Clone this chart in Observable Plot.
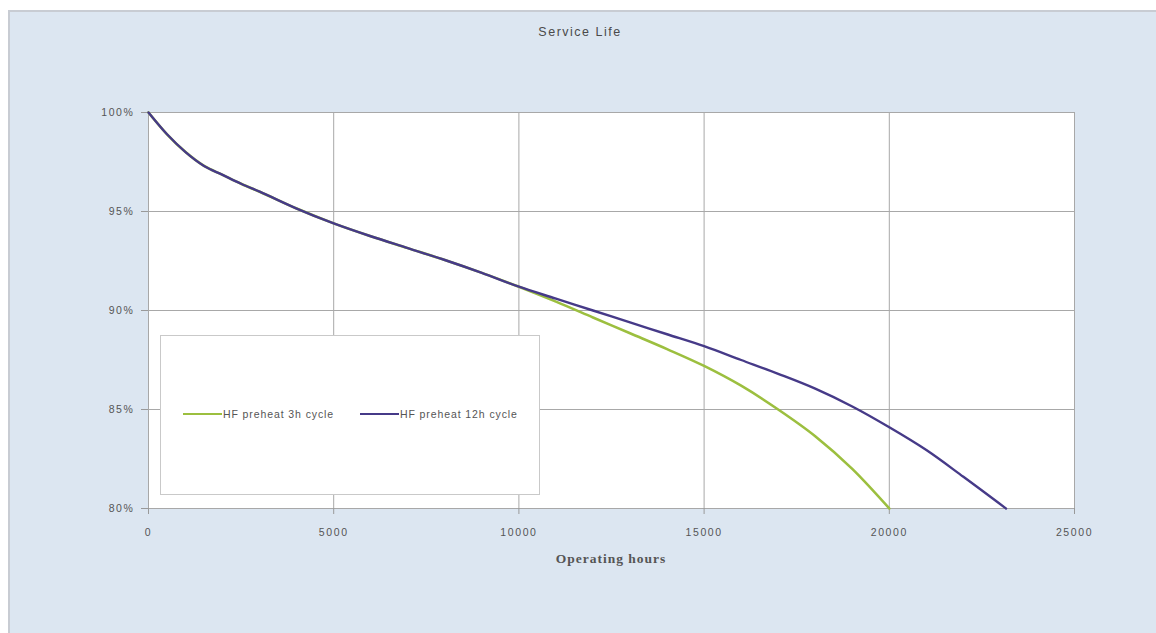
<!DOCTYPE html>
<html>
<head>
<meta charset="utf-8">
<script src="https://cdn.jsdelivr.net/npm/d3@7"></script>
<script src="https://cdn.jsdelivr.net/npm/@observablehq/plot@0.6"></script>
<style>
  html, body { margin: 0; padding: 0; background: #ffffff; width: 1156px; height: 633px; overflow: hidden; }
  #panel { position: absolute; left: 8px; top: 10px; width: 1160px; height: 640px; background: #dce6f1;
           border-left: 2px solid #c8ccd3; border-top: 2px solid #c8ccd3; box-sizing: border-box; }
  #chart { position: absolute; left: 0; top: 0; }
  #chart svg text { letter-spacing: 1.6px; }
  .txt { position: absolute; font-family: "Liberation Sans", Arial, sans-serif; color: #4a4a4a; white-space: nowrap; }
  #title { left: 0; width: 1160px; top: 25px; text-align: center; font-size: 12.5px; letter-spacing: 1.5px; }
  #xlabel { left: 148px; width: 926px; top: 551px; text-align: center; font-size: 13.5px; font-weight: bold; letter-spacing: 1px; font-family: "Liberation Serif", serif; color: #555; }
  #legend { position: absolute; left: 160px; top: 335px; width: 380px; height: 160px; background: #fff;
            border: 1.5px solid #c9c9c9; box-sizing: border-box; }
  .item { position: absolute; top: 72px; font-family: "Liberation Sans", Arial, sans-serif; font-size: 10.5px; letter-spacing: 0.9px; color: #555; display: flex; align-items: center; }
  .swatch { display: inline-block; width: 39px; height: 2.5px; margin-right: 1px; }
</style>
</head>
<body>
<div id="panel"></div>
<div id="chart"></div>
<div class="txt" id="title">Service Life</div>
<div class="txt" id="xlabel">Operating hours</div>
<div id="legend"></div>
<script>
// Data
const seriesNames = ["HF preheat 3h cycle", "HF preheat 12h cycle"];
const seriesColors = ["#9cbf3f", "#463a88"];

const hours3h  = [0, 500, 1000, 1500, 2000, 2500, 3000, 4000, 5000, 6000, 7000, 8000, 9000, 10000, 11000, 12000, 13000, 14000, 15000, 16000, 17000, 18000, 19000, 20000];
const life3h   = [100, 98.9, 98.0, 97.3, 96.85, 96.4, 96.0, 95.15, 94.4, 93.75, 93.15, 92.55, 91.9, 91.2, 90.45, 89.65, 88.85, 88.05, 87.2, 86.2, 85.0, 83.65, 82.0, 80.0];

const hours12h = [0, 500, 1000, 1500, 2000, 2500, 3000, 4000, 5000, 6000, 7000, 8000, 9000, 10000, 11000, 12000, 13000, 14000, 15000, 16000, 17000, 18000, 19000, 20000, 21000, 22000, 23150];
const life12h  = [100, 98.9, 98.0, 97.3, 96.85, 96.4, 96.0, 95.15, 94.4, 93.75, 93.15, 92.55, 91.9, 91.2, 90.6, 90.0, 89.4, 88.8, 88.2, 87.5, 86.8, 86.05, 85.15, 84.1, 82.95, 81.6, 80.0];

const xTicks = [0, 5000, 10000, 15000, 20000, 25000];
const yTicks = [80, 85, 90, 95, 100];

const rows3h  = hours3h.map((h, i) => ({hours: h, life: life3h[i], series: seriesNames[0]}));
const rows12h = hours12h.map((h, i) => ({hours: h, life: life12h[i], series: seriesNames[1]}));

const plot = Plot.plot({
  width: 1156,
  height: 633,
  marginLeft: 148,
  marginRight: 82,
  marginTop: 112,
  marginBottom: 125,
  style: { background: "transparent", fontFamily: "Liberation Sans, Arial, sans-serif", fontSize: "10.5px", color: "#555" },
  x: { domain: [0, 25000], label: null },
  y: { domain: [80, 100], label: null },
  marks: [
    Plot.frame({ fill: "white", stroke: "#b4b4b4" }),
    Plot.gridX(xTicks, { stroke: "#a8a8a8", strokeOpacity: 1, strokeWidth: 1 }),
    Plot.gridY(yTicks, { stroke: "#a8a8a8", strokeOpacity: 1, strokeWidth: 1 }),
    Plot.axisX(xTicks, { tickFormat: d => String(d), tickSize: 6, tickPadding: 14, stroke: "#999", fill: "#555", fontSize: 10.5 }),
    Plot.axisY(yTicks, { tickFormat: d => d + "%", tickSize: 7, tickPadding: 7, stroke: "#999", fill: "#555", fontSize: 10.5 }),
    Plot.line(rows3h, { x: "hours", y: "life", stroke: seriesColors[0], strokeWidth: 2.6, curve: "monotone-x" }),
    Plot.line(rows12h, { x: "hours", y: "life", stroke: seriesColors[1], strokeWidth: 2.4, curve: "monotone-x" })
  ]
});
document.getElementById("chart").appendChild(plot);

// Legend (HTML overlay)
const legend = document.getElementById("legend");
const lefts = [22, 199];
seriesNames.forEach((name, i) => {
  const item = document.createElement("div");
  item.className = "item";
  item.style.left = lefts[i] + "px";
  const sw = document.createElement("span");
  sw.className = "swatch";
  sw.style.background = seriesColors[i];
  item.appendChild(sw);
  item.appendChild(document.createTextNode(name));
  legend.appendChild(item);
});
</script>
</body>
</html>
